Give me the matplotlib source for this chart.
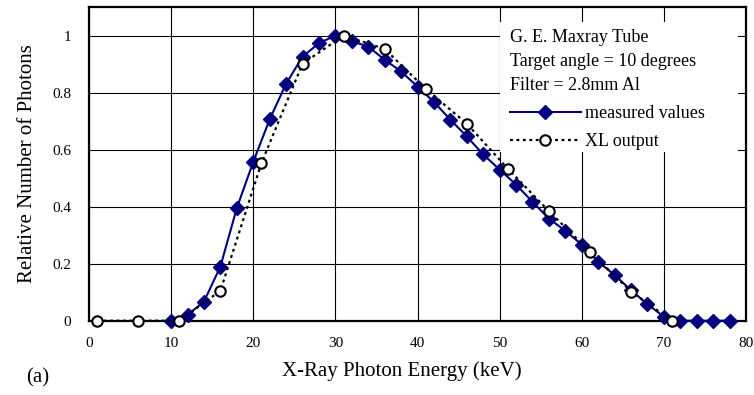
import matplotlib
matplotlib.use('Agg')
import matplotlib.pyplot as plt
from matplotlib.patches import Rectangle

# measured spectrum (diamonds), every 2 keV
measured_kev = [10, 12, 14, 16, 18, 20, 22, 24, 26, 28, 30, 32, 34, 36, 38, 40, 42, 44,
                46, 48, 50, 52, 54, 56, 58, 60, 62, 64, 66, 68, 70, 72, 74, 76, 78]
measured = [0.0, 0.02, 0.067, 0.19, 0.395, 0.557, 0.706, 0.831, 0.926, 0.973, 1.0, 0.98,
            0.961, 0.915, 0.874, 0.821, 0.767, 0.705, 0.646, 0.583, 0.530, 0.477, 0.417,
            0.358, 0.315, 0.267, 0.207, 0.160, 0.107, 0.058, 0.014, 0.0, 0.0, 0.0, 0.0]

# XL output (open circles), every 5 keV
xl_kev = [1, 6, 11, 16, 21, 26, 31, 36, 41, 46, 51, 56, 61, 66, 71]
xl_out = [0.0, 0.0, 0.0, 0.105, 0.553, 0.901, 1.0, 0.953, 0.813, 0.691, 0.533, 0.384,
          0.242, 0.102, 0.0]

x_ticks = [0, 10, 20, 30, 40, 50, 60, 70, 80]
y_ticks = [0, 0.2, 0.4, 0.6, 0.8, 1]
y_ticklabels = ['0', '0.2', '0.4', '0.6', '0.8', '1']

plt.rcParams['font.family'] = ['Liberation Serif', 'DejaVu Serif']

fig = plt.figure(figsize=(7.54, 3.95), dpi=100)
ax = fig.add_subplot(1, 1, 1)
fig.subplots_adjust(left=89/754, right=746/754, top=1-7/395, bottom=1-320.7/395)

ax.plot(measured_kev, measured, color='#000080', lw=1.5, marker='D', markersize=7,
        label='measured values', clip_on=False, zorder=3)
ax.plot(xl_kev, xl_out, color='black', lw=1.6, linestyle=(0, (1.3, 1.6)), marker='o',
        markersize=7.5, markerfacecolor='white', markeredgecolor='black', markeredgewidth=1.5,
        label='XL output', clip_on=False, zorder=4)

ax.set_xlim(0, 80)
ax.set_ylim(0, 1.1)
ax.set_xticks(x_ticks)
ax.set_yticks(y_ticks)
ax.set_yticklabels(y_ticklabels)
ax.tick_params(axis='both', length=0, labelsize=11)
ax.tick_params(axis='y', pad=13)
ax.tick_params(axis='x', pad=12)
ax.grid(True, color='black', lw=0.8)
ax.set_axisbelow(True)
for s in ax.spines.values():
    s.set_linewidth(1.6)

ax.set_xlabel('X-Ray Photon Energy (keV)', fontsize=15)
ax.xaxis.set_label_coords(0.476, -0.128)
ax.set_ylabel('Relative Number of Photons', fontsize=15)
ax.yaxis.set_label_coords(-0.079, 0.5)

fig.text(38/754, 1-378/395, '(a)', fontsize=15, ha='center', va='center')

# white box behind the legend text (covers the grid)
ax.add_patch(Rectangle((0.6256, 0.538), 0.362, 0.414, transform=ax.transAxes,
                       facecolor='white', edgecolor='none', zorder=1.5))

leg = ax.legend(title='G. E. Maxray Tube\nTarget angle = 10 degrees\nFilter = 2.8mm Al',
                alignment='left', loc='upper left', bbox_to_anchor=(0.641, 0.93),
                borderaxespad=0, fontsize=13, title_fontsize=13, numpoints=1,
                handlelength=3.9, handletextpad=0.25, labelspacing=0.6,
                frameon=False, borderpad=0)
leg.get_title().set_linespacing(1.55)

fig.savefig('out.png', dpi=100)
